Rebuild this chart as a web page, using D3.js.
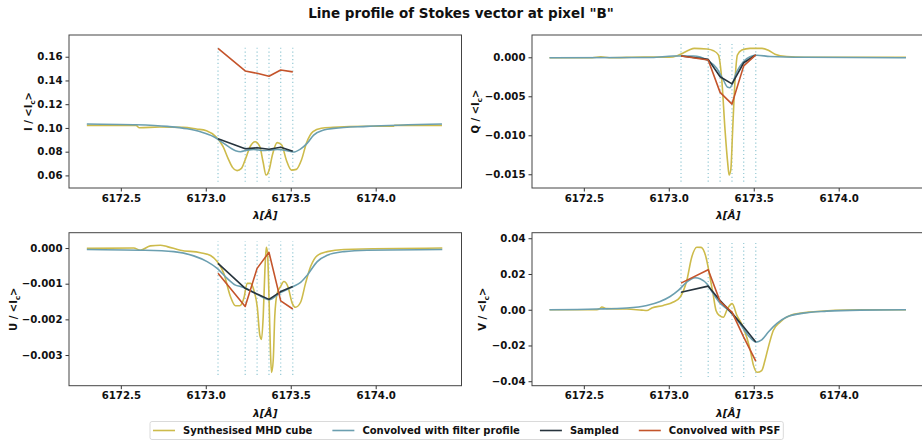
<!DOCTYPE html>
<html>
<head>
<meta charset="utf-8">
<script src="https://cdn.jsdelivr.net/npm/d3@7"></script>
<style>
    body { margin: 0; background: #fff; }
    svg { display: block; font-family: 'DejaVu Sans', sans-serif; }
    .tick text { font-family: 'DejaVu Sans', sans-serif; font-weight: bold; font-size: 10.2px; fill: #111; }
    .tick line { stroke: #333; }
</style>
</head>
<body>
<svg id="chart"></svg>
<script>
// wavelength grid of the filter tuning positions (sampled / PSF series)
const sampleWl = [6173.072, 6173.232, 6173.302, 6173.372, 6173.441, 6173.512];
const xTicks = [6172.5, 6173.0, 6173.5, 6174.0];
const wlDomain = [6172.195, 6174.505];
const legendLabels = ['Synthesised MHD cube', 'Convolved with filter profile', 'Sampled', 'Convolved with PSF'];

// Stokes I
const iMhd = [[6172.30, 0.1022], [6172.59, 0.1022], [6172.607, 0.1002], [6172.73, 0.1008], [6172.866, 0.1005],
    [6172.945, 0.0991], [6173.004, 0.0977], [6173.063, 0.0921], [6173.102, 0.0842], [6173.131, 0.0744],
    [6173.157, 0.0668], [6173.184, 0.0640], [6173.21, 0.0659], [6173.235, 0.0744], [6173.263, 0.0848],
    [6173.29, 0.0884], [6173.318, 0.0842], [6173.337, 0.0715], [6173.355, 0.0603], [6173.373, 0.0645],
    [6173.392, 0.0772], [6173.42, 0.0876], [6173.447, 0.0856], [6173.474, 0.0730], [6173.504, 0.0645],
    [6173.533, 0.0651], [6173.563, 0.0730], [6173.592, 0.0870], [6173.631, 0.0968], [6173.68, 0.0997],
    [6173.749, 0.1005], [6173.945, 0.1014], [6174.102, 0.1014], [6174.112, 0.1022], [6174.39, 0.1022]];
const iFilter = [[6172.30, 0.1033], [6172.576, 0.1027], [6172.773, 0.1013], [6172.891, 0.0993], [6172.969, 0.0968],
    [6173.047, 0.0926], [6173.106, 0.0870], [6173.175, 0.0808], [6173.204, 0.0800], [6173.244, 0.0813],
    [6173.282, 0.0819], [6173.341, 0.0810], [6173.373, 0.0813], [6173.42, 0.0818], [6173.479, 0.0808],
    [6173.514, 0.0797], [6173.557, 0.0822], [6173.596, 0.0870], [6173.635, 0.0940], [6173.694, 0.0982],
    [6173.753, 0.0996], [6173.949, 0.1013], [6174.39, 0.1033]];
const iSampled = [0.0909, 0.0825, 0.0833, 0.0820, 0.0837, 0.0803];
const iPsf = [0.1671, 0.1480, 0.1460, 0.1435, 0.1488, 0.1472];

// Stokes Q
const qMhd = [[6172.298, -0.00005], [6172.55, -0.00005], [6172.6, 0.00005], [6172.65, -0.00005], [6172.85, 0.00003],
    [6173.0, 0.0], [6173.05, 0.0002], [6173.08, 0.0005], [6173.12, 0.00094], [6173.15, 0.00115],
    [6173.224, 0.00106], [6173.263, 0.00085], [6173.292, 0.0003], [6173.312, -0.0029], [6173.331, -0.0093],
    [6173.347, -0.0136], [6173.355, -0.0151], [6173.365, -0.0144], [6173.376, -0.0093], [6173.39, -0.0029],
    [6173.404, 0.0003], [6173.43, 0.00093], [6173.478, 0.00115], [6173.547, 0.00115], [6173.586, 0.0009],
    [6173.625, 0.0004], [6173.694, 0.0001], [6173.8, 0.0], [6174.396, 0.0]];
const qFilter = [[6172.298, -0.00005], [6172.9, -0.00003], [6173.027, 0.00017], [6173.145, 0.00017], [6173.224, -0.00035],
    [6173.282, -0.0014], [6173.321, -0.0029], [6173.347, -0.00385], [6173.36, -0.0039], [6173.371, -0.00355],
    [6173.4, -0.00185], [6173.439, -0.00056], [6173.478, 0.00008], [6173.518, 0.00026], [6173.596, 0.0001],
    [6173.8, 0.0], [6174.396, -0.00005]];
const qSampled = [0.00017, -0.00026, -0.0025, -0.0034, -0.0007, 0.0003];
const qPsf = [0.00017, -0.00035, -0.0045, -0.0060, -0.0011, 0.0003];

// Stokes U
const uMhd = [[6172.30, -0.00001], [6172.576, 0.0], [6172.615, -0.00006], [6172.674, 0.00006], [6172.733, 0.00008],
    [6172.773, 0.00004], [6172.851, -0.00006], [6172.969, -0.00013], [6173.028, -0.00021], [6173.067, -0.00038],
    [6173.106, -0.00071], [6173.145, -0.00136], [6173.175, -0.00162], [6173.2, -0.00162], [6173.224, -0.00141],
    [6173.244, -0.00099], [6173.263, -0.00099], [6173.283, -0.00118], [6173.303, -0.00165], [6173.318, -0.00244],
    [6173.328, -0.00256], [6173.338, -0.00192], [6173.348, -0.00062], [6173.356, 0.00002], [6173.363, -0.00012],
    [6173.373, -0.00155], [6173.381, -0.00295], [6173.387, -0.00349], [6173.397, -0.00314], [6173.406, -0.00192],
    [6173.42, -0.00127], [6173.44, -0.00108], [6173.459, -0.00094], [6173.483, -0.00108], [6173.509, -0.00155],
    [6173.528, -0.00166], [6173.558, -0.00152], [6173.587, -0.00099], [6173.617, -0.00052], [6173.656, -0.00021],
    [6173.715, -0.0001], [6173.813, -0.00004], [6174.392, 0.0]];
const uFilter = [[6172.30, -0.00004], [6172.615, -0.00006], [6172.812, -0.0001], [6172.929, -0.00022], [6173.008, -0.00038],
    [6173.067, -0.00057], [6173.126, -0.00085], [6173.175, -0.00104], [6173.204, -0.00108], [6173.244, -0.00115],
    [6173.303, -0.0013], [6173.373, -0.00145], [6173.44, -0.00125], [6173.515, -0.00108], [6173.558, -0.00096],
    [6173.597, -0.00076], [6173.656, -0.00038], [6173.715, -0.0002], [6173.813, -0.0001], [6173.95, -0.00006],
    [6174.392, -0.00004]];
const uSampled = [-0.00043, -0.00113, -0.00129, -0.00144, -0.00122, -0.00108];
const uPsf = [-0.00071, -0.00164, -0.00057, -0.00012, -0.00148, -0.00171];

// Stokes V
const vMhd = [[6172.298, 0.0], [6172.576, 0.0], [6172.596, 0.0008], [6172.606, 0.0015], [6172.635, 0.0006],
    [6172.753, 0.0004], [6172.841, -0.0002], [6172.871, -0.0004], [6172.9, 0.001], [6172.968, 0.0024],
    [6173.027, 0.0043], [6173.066, 0.007], [6173.106, 0.0164], [6173.135, 0.0294], [6173.165, 0.0350],
    [6173.19, 0.0349], [6173.219, 0.0294], [6173.239, 0.0201], [6173.259, 0.0098], [6173.278, -0.0004],
    [6173.298, -0.0032], [6173.321, -0.0042], [6173.345, 0.0005], [6173.373, 0.0034], [6173.40, -0.003],
    [6173.439, -0.010], [6173.478, -0.022], [6173.498, -0.031], [6173.52, -0.0350], [6173.547, -0.034],
    [6173.566, -0.0284], [6173.586, -0.0209], [6173.615, -0.0116], [6173.655, -0.0069], [6173.714, -0.0032],
    [6173.831, -0.0013], [6174.125, 0.0], [6174.396, 0.0]];
const vFilter = [[6172.298, 0.0], [6172.576, 0.0004], [6172.753, 0.001], [6172.871, 0.0024], [6172.949, 0.0046],
    [6173.008, 0.0074], [6173.056, 0.0108], [6173.106, 0.0155], [6173.155, 0.0179], [6173.184, 0.0173],
    [6173.224, 0.0145], [6173.262, 0.009], [6173.302, 0.0037], [6173.341, 0.0006], [6173.371, -0.0022],
    [6173.419, -0.0078], [6173.468, -0.0144], [6173.514, -0.0181], [6173.547, -0.0168], [6173.586, -0.0125],
    [6173.635, -0.0078], [6173.694, -0.0041], [6173.792, -0.0019], [6173.929, -0.0008], [6174.125, -0.0002],
    [6174.396, 0.0]];
const vSampled = [0.0098, 0.0132, 0.0052, -0.0019, -0.0097, -0.0181];
const vPsf = [0.0149, 0.0224, 0.0046, -0.0013, -0.0153, -0.0288];

const colors = ['#cdbb4b', '#6b9fb0', '#27343d', '#c4542b'];

class StokesPanel {
    constructor(svg, cfg) {
        this.svg = svg;
        this.cfg = cfg;
        this.initVis();
    }

    initVis() {
        const c = this.cfg;
        this.width = 392.5;
        this.height = 153;

        this.x = d3.scaleLinear().domain(wlDomain).range([0, this.width]);
        this.y = d3.scaleLinear().domain(c.yDomain).range([this.height, 0]);

        this.g = this.svg
            .append('g')
            .attr('transform', `translate(${c.left}, ${c.top})`);

        const clipId = 'clip-' + c.name;
        this.g
            .append('clipPath')
            .attr('id', clipId)
            .append('rect')
            .attr('width', this.width)
            .attr('height', this.height);

        const plot = this.g.append('g').attr('clip-path', `url(#${clipId})`);

        // dotted markers at the tuning positions
        plot.selectAll('line.vline')
            .data(sampleWl)
            .join('line')
            .attr('class', 'vline')
            .attr('x1', d => this.x(d))
            .attr('x2', d => this.x(d))
            .attr('y1', this.y(c.span[0]))
            .attr('y2', this.y(c.span[1]))
            .attr('stroke', '#93c8d4')
            .attr('stroke-width', 1.2)
            .attr('stroke-dasharray', '1.2,2.6');

        const smooth = d3.line()
            .x(d => this.x(d[0]))
            .y(d => this.y(d[1]))
            .curve(d3.curveMonotoneX);
        const straight = d3.line()
            .x(d => this.x(d[0]))
            .y(d => this.y(d[1]));

        const series = [
            { pts: c.mhd, gen: smooth },
            { pts: c.filt, gen: smooth },
            { pts: sampleWl.map((w, i) => [w, c.samp[i]]), gen: straight },
            { pts: sampleWl.map((w, i) => [w, c.psf[i]]), gen: straight }
        ];

        series.forEach((s, i) => {
            plot.append('path')
                .attr('d', s.gen(s.pts))
                .attr('fill', 'none')
                .attr('stroke', colors[i])
                .attr('stroke-width', 1.6)
                .attr('stroke-linejoin', 'round');
        });

        // axes
        this.g.append('g')
            .attr('transform', `translate(0, ${this.height})`)
            .call(d3.axisBottom(this.x).tickValues(xTicks).tickFormat(d3.format('.1f')).tickSize(3.5).tickPadding(3))
            .call(g => g.select('.domain').remove());

        this.g.append('g')
            .call(d3.axisLeft(this.y).tickValues(c.yTicks).tickFormat(d3.format(c.fmt)).tickSize(3.5).tickPadding(3))
            .call(g => g.select('.domain').remove());

        // frame
        this.g.append('rect')
            .attr('width', this.width)
            .attr('height', this.height)
            .attr('fill', 'none')
            .attr('stroke', '#444')
            .attr('stroke-width', 1);

        // x label
        this.g.append('text')
            .attr('x', this.width / 2)
            .attr('y', this.height + 31)
            .attr('text-anchor', 'middle')
            .attr('font-size', 10.5)
            .attr('font-weight', 'bold')
            .attr('font-style', 'italic')
            .attr('fill', '#111')
            .text('λ[Å]');

        // y label
        const yl = this.g.append('text')
            .attr('transform', `translate(${c.yLabelX}, ${this.height / 2}) rotate(-90)`)
            .attr('text-anchor', 'middle')
            .attr('font-size', 10)
            .attr('font-weight', 'bold')
            .attr('fill', '#111');
        yl.append('tspan').text(c.name + ' / <I');
        yl.append('tspan').attr('font-size', 7).attr('dy', 3).text('c');
        yl.append('tspan').attr('dy', -3).text('>');
    }
}

const svg = d3.select('#chart').attr('width', 922).attr('height', 441);

svg.append('text')
    .attr('x', 461)
    .attr('y', 18)
    .attr('text-anchor', 'middle')
    .attr('font-size', 13.5)
    .attr('font-weight', 'bold')
    .attr('fill', '#111')
    .text('Line profile of Stokes vector at pixel "B"');

new StokesPanel(svg, {
    name: 'I', left: 69, top: 35, mhd: iMhd, filt: iFilter, samp: iSampled, psf: iPsf,
    yDomain: [0.0494, 0.1783], yTicks: [0.06, 0.08, 0.10, 0.12, 0.14, 0.16], fmt: '.2f',
    span: [0.0546, 0.1699], yLabelX: -37.5
});
new StokesPanel(svg, {
    name: 'Q', left: 532, top: 35, mhd: qMhd, filt: qFilter, samp: qSampled, psf: qPsf,
    yDomain: [-0.01676, 0.00286], yTicks: [-0.015, -0.010, -0.005, 0.0], fmt: '.3f',
    span: [-0.01595, 0.0017], yLabelX: -53.5
});
new StokesPanel(svg, {
    name: 'U', left: 69, top: 232.7, mhd: uMhd, filt: uFilter, samp: uSampled, psf: uPsf,
    yDomain: [-0.00386, 0.00043], yTicks: [-0.003, -0.002, -0.001, 0.0], fmt: '.3f',
    span: [-0.00356, 0.00018], yLabelX: -52.5
});
new StokesPanel(svg, {
    name: 'V', left: 532, top: 232.7, mhd: vMhd, filt: vFilter, samp: vSampled, psf: vPsf,
    yDomain: [-0.0425, 0.0431], yTicks: [-0.04, -0.02, 0.0, 0.02, 0.04], fmt: '.2f',
    span: [-0.0377, 0.0378], yLabelX: -46.5
});

// legend, laid out like matplotlib: handle, pad, label, column spacing
const legend = svg.append('g');
const legendBox = legend.append('rect')
    .attr('y', 421.5)
    .attr('height', 18)
    .attr('rx', 2)
    .attr('fill', '#fff')
    .attr('stroke', '#d0d0d0')
    .attr('stroke-width', 0.8);

let lx = 153;
legendLabels.forEach((label, i) => {
    legend.append('line')
        .attr('x1', lx)
        .attr('x2', lx + 22)
        .attr('y1', 430.5)
        .attr('y2', 430.5)
        .attr('stroke', colors[i])
        .attr('stroke-width', 1.6);
    const t = legend.append('text')
        .attr('x', lx + 30)
        .attr('y', 434)
        .attr('font-size', 10)
        .attr('font-weight', 'bold')
        .attr('fill', '#111')
        .text(label);
    lx += 30 + t.node().getComputedTextLength() + 20;
});
legendBox.attr('x', 150).attr('width', lx - 20 + 3 - 150);
</script>
</body>
</html>
